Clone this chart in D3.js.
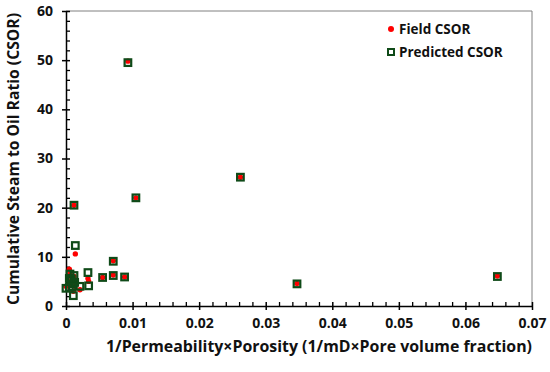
<!DOCTYPE html>
<html>
<head>
<meta charset="utf-8">
<script src="https://cdn.jsdelivr.net/npm/d3@7"></script>
<style>
  html, body { margin: 0; padding: 0; background: #fff; }
  svg { display: block; font-family: "Open Sans", "Noto Sans", sans-serif; font-weight: bold; }
</style>
</head>
<body>
<script>
// permeability/porosity term (x), field and predicted CSOR
const xVals = [0.0093, 0.0105, 0.0262, 0.0347, 0.0648, 0.0012, 0.0014, 0.0071,
  0.0033, 0.0034, 0.0055, 0.0071, 0.0088, 0.0011, 0.0000, 0.0005,
  0.0006, 0.0008, 0.0010, 0.0012, 0.0013, 0.0005, 0.0021, 0.0009];
const fieldCSOR = [49.8, 22.0, 26.2, 4.6, 6.1, 20.5, 10.6, 9.2,
  5.6, 5.0, 5.8, 6.3, 5.9, 3.0, 4.0, 7.5,
  6.5, 5.0, 4.5, 6.0, 4.0, 4.2, 3.3, 5.6];
const predictedCSOR = [49.5, 22.0, 26.2, 4.5, 6.0, 20.5, 12.3, 9.1,
  6.8, 4.1, 5.8, 6.2, 5.9, 2.1, 3.6, 5.6,
  6.5, 5.5, 4.5, 6.2, 4.8, 3.8, 4.0, 3.9];

const xMajor = [0, 0.01, 0.02, 0.03, 0.04, 0.05, 0.06, 0.07];
const yMajor = [0, 10, 20, 30, 40, 50, 60];
const seriesNames = ['Field CSOR', 'Predicted CSOR'];

const width = 550, height = 372;
const red = '#ff0000', green = '#0f4a18';

const svg = d3.select('body').append('svg')
  .attr('width', width)
  .attr('height', height);

const x = d3.scaleLinear().domain([0, 0.07]).range([66, 532]);
const y = d3.scaleLinear().domain([0, 60]).range([306, 11]);

const points = xVals.map((v, i) => ({x: v, field: fieldCSOR[i], pred: predictedCSOR[i]}));

// plot frame (top and right)
svg.append('path')
  .attr('d', `M${x(0)},${y(60)}H${x(0.07)}V${y(0)}`)
  .attr('fill', 'none')
  .attr('stroke', '#808080')
  .attr('stroke-width', 1);

// minor ticks, inside only
const xMinor = d3.range(0, 0.0701, 0.002).filter(v => Math.abs(v * 100 - Math.round(v * 100)) > 1e-6);
const yMinor = d3.range(0, 60.01, 2).filter(v => v % 10 !== 0);

svg.append('g')
  .attr('transform', `translate(0,${y(0)})`)
  .call(d3.axisBottom(x).tickValues(xMinor).tickSize(-4).tickFormat(''))
  .call(g => g.select('.domain').remove())
  .call(g => g.selectAll('line').attr('stroke', '#000').attr('stroke-width', 1.3));

svg.append('g')
  .attr('transform', `translate(${x(0)},0)`)
  .call(d3.axisLeft(y).tickValues(yMinor).tickSize(-4).tickFormat(''))
  .call(g => g.select('.domain').remove())
  .call(g => g.selectAll('line').attr('stroke', '#000').attr('stroke-width', 1.3));

// major axes, ticks crossing the line
const xAxis = svg.append('g')
  .attr('transform', `translate(0,${y(0)})`)
  .call(d3.axisBottom(x).tickValues(xMajor).tickSize(4).tickSizeOuter(0)
    .tickFormat(d => d === 0 ? '0' : d3.format('.2f')(d)));
xAxis.selectAll('.tick line').attr('y1', -4).attr('y2', 4);
xAxis.select('.domain').attr('stroke-width', 1.5);
xAxis.selectAll('line').attr('stroke-width', 1.5);
xAxis.selectAll('text')
  .attr('y', 12)
  .attr('font-size', 14)
  .attr('font-family', '"Open Sans", sans-serif')
  .attr('font-weight', 'bold')
  .attr('fill', '#111');

const yAxis = svg.append('g')
  .attr('transform', `translate(${x(0)},0)`)
  .call(d3.axisLeft(y).tickValues(yMajor).tickSize(4).tickSizeOuter(0));
yAxis.selectAll('.tick line').attr('x1', -4).attr('x2', 4);
yAxis.select('.domain').attr('stroke-width', 1.5);
yAxis.selectAll('line').attr('stroke-width', 1.5);
yAxis.selectAll('text')
  .attr('x', -13)
  .attr('font-size', 14)
  .attr('font-family', '"Open Sans", sans-serif')
  .attr('font-weight', 'bold')
  .attr('fill', '#111');

// axis titles
svg.append('text')
  .attr('x', 319)
  .attr('y', 352)
  .attr('text-anchor', 'middle')
  .attr('font-size', 15.9)
  .attr('fill', '#111')
  .text('1/Permeability×Porosity (1/mD×Pore volume fraction)');

svg.append('text')
  .attr('transform', `translate(19,${(20 + 298) / 2}) rotate(-90)`)
  .attr('text-anchor', 'middle')
  .attr('font-size', 15.7)
  .attr('fill', '#111')
  .text('Cumulative Steam to Oil Ratio (CSOR)');

// field points
svg.append('g')
  .selectAll('circle')
  .data(points)
  .join('circle')
  .attr('cx', d => x(d.x))
  .attr('cy', d => y(d.field))
  .attr('r', 2.7)
  .attr('fill', red);

// predicted points, hollow squares
svg.append('g')
  .selectAll('rect')
  .data(points)
  .join('rect')
  .attr('x', d => x(d.x) - 3.3)
  .attr('y', d => y(d.pred) - 3.3)
  .attr('width', 6.6)
  .attr('height', 6.6)
  .attr('fill', 'none')
  .attr('stroke', green)
  .attr('stroke-width', 2.2);

// legend
const legend = svg.append('g');
legend.append('circle').attr('cx', 391).attr('cy', 29).attr('r', 3).attr('fill', red);
legend.append('rect').attr('x', 388).attr('y', 49).attr('width', 6).attr('height', 6)
  .attr('fill', 'none').attr('stroke', green).attr('stroke-width', 2);
legend.selectAll('text')
  .data(seriesNames)
  .join('text')
  .attr('x', 399)
  .attr('y', (d, i) => 29 + i * 23)
  .attr('dy', '0.35em')
  .attr('font-size', 13.5)
  .attr('fill', '#111')
  .text(d => d);
</script>
</body>
</html>
